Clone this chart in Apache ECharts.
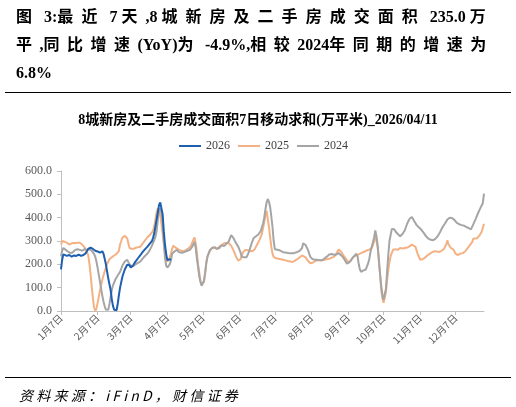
<!DOCTYPE html>
<html>
<head>
<meta charset="utf-8">
<script src="https://cdn.jsdelivr.net/npm/echarts@6/dist/echarts.min.js"></script>
<style>
  html, body { margin:0; padding:0; width:516px; height:407px; background:#fff; overflow:hidden; }
  #chart { position:absolute; left:0; top:0; width:516px; height:407px; }
  .hd { position:absolute; left:16px; font-family:"Liberation Serif","Noto Sans CJK SC",serif; font-weight:bold; font-size:16px; color:#000; line-height:28px; white-space:nowrap; }
  .rule { position:absolute; left:5px; width:506px; height:0; border-top:1.6px solid #000; }
  .src { position:absolute; left:19px; top:385px; font-family:"Noto Sans CJK SC",sans-serif; font-style:italic; font-size:14px; color:#000; white-space:nowrap; }
</style>
</head>
<body>
<div id="chart"></div>
<div class="hd fitcjk" data-w="478" style="top:3px">图 3:最近 7 天,8 城新房及二手房成交面积 235.0 万</div>
<div class="hd fitcjk" data-w="478" style="top:31px">平,同比增速(YoY)为 -4.9%,相较2024年同期的增速为</div>
<div class="hd" style="top:59px">6.8%</div>
<div class="rule" style="top:92px"></div>
<div class="rule" style="top:377px"></div>
<div class="src fit" data-w="222">资料来源：iFinD，财信证券</div>
<script>
// spread CJK characters of header lines to the reference width (Latin runs stay tight)
const cjkRe = /[\u3000-\u303f\u4e00-\u9fff\uff00-\uffef]/;
document.querySelectorAll('.fitcjk').forEach(el => {
  const target = +el.dataset.w;
  const text = el.textContent;
  el.textContent = '';
  const spans = [];
  for (const ch of text) {
    if (cjkRe.test(ch)) {
      const s = document.createElement('span');
      s.textContent = ch;
      el.appendChild(s);
      spans.push(s);
    } else {
      el.appendChild(document.createTextNode(ch));
    }
  }
  const w = el.getBoundingClientRect().width;
  const ls = (target - w) / spans.length;
  spans.forEach(s => { s.style.letterSpacing = ls + 'px'; });
});
document.querySelectorAll('.fit').forEach(el => {
  const target = +el.dataset.w;
  el.style.letterSpacing = '0px';
  const w = el.getBoundingClientRect().width;
  el.style.letterSpacing = ((target - w) / el.textContent.length) + 'px';
});

// x categories: Jan 7 .. Dec 31
const monthDays = [31,28,31,30,31,30,31,31,30,31,30,31];
const categories = [];
for (let m = 1; m <= 12; m++) {
  for (let d = 1; d <= monthDays[m-1]; d++) {
    if (m === 1 && d < 7) continue;
    categories.push(m + '月' + d + '日');
  }
}
const yTicks = [0, 100, 200, 300, 400, 500, 600];
const seriesNames = ['2026', '2025', '2024'];

// [day index from Jan 7, value]
const s2026 = [[0,178],[1,220],[2,243],[3,238],[5,236],[7,240],[9,233],[11,238],[13,236],[15,242],[17,236],[19,240],[21,248],[23,266],[25,272],[27,266],[29,258],[31,255],[33,250],[35,256],[36,245],[38,200],[40,140],[42,90],[43,50],[44,22],[45,5],[46,0],[47,3],[48,30],[49,68],[50,100],[52,148],[54,178],[56,198],[58,196],[59,186],[61,195],[63,212],[65,225],[67,238],[69,252],[71,264],[73,275],[75,288],[77,300],[78,315],[79,335],[80,365],[81,395],[82,425],[83,455],[84,465],[85,458],[86,415],[87,340],[88,285],[89,245],[90,218],[91,214],[92,222],[93,218]];

const s2025 = [[0,285],[1,300],[3,297],[5,292],[7,285],[8,280],[10,292],[12,290],[14,293],[16,292],[18,285],[20,272],[21,262],[22,255],[23,240],[24,205],[25,160],[26,105],[27,55],[28,15],[29,0],[30,10],[31,35],[33,88],[35,135],[37,170],[39,202],[41,222],[43,230],[45,238],[47,245],[49,258],[50,285],[52,315],[54,322],[56,312],[58,270],[60,266],[62,268],[64,272],[67,275],[70,295],[73,315],[76,330],[78,345],[79,365],[80,395],[81,425],[82,440],[83,432],[84,410],[85,375],[86,330],[87,285],[88,248],[89,222],[90,212],[91,215],[92,228],[93,245],[94,265],[95,280],[96,276],[98,268],[100,262],[102,258],[104,256],[106,262],[108,268],[110,280],[112,305],[113,315],[114,290],[115,250],[116,200],[117,165],[118,130],[119,112],[120,104],[121,125],[122,160],[123,210],[124,232],[125,240],[126,260],[128,272],[130,270],[132,266],[134,276],[136,282],[138,290],[140,292],[142,290],[144,280],[146,260],[148,235],[150,216],[151,214],[152,222],[154,252],[156,262],[158,260],[160,258],[162,256],[164,265],[166,285],[168,305],[170,330],[172,380],[173,410],[174,430],[175,395],[176,360],[177,317],[178,275],[179,246],[180,232],[182,226],[184,224],[186,222],[188,220],[190,217],[192,214],[194,212],[196,210],[198,216],[200,222],[202,230],[204,238],[205,241],[207,230],[209,215],[211,205],[213,207],[215,214],[217,217],[219,218],[221,218],[223,220],[225,222],[227,224],[229,228],[231,232],[233,246],[235,263],[237,255],[239,238],[241,225],[243,210],[245,213],[247,230],[249,236],[251,240],[253,246],[255,250],[257,255],[259,260],[261,263],[263,270],[264,282],[265,300],[266,325],[267,300],[268,274],[269,210],[270,160],[271,90],[272,55],[273,35],[274,35],[275,80],[276,132],[277,175],[278,210],[279,235],[281,262],[283,265],[285,262],[287,270],[289,268],[291,270],[293,272],[295,277],[297,285],[298,292],[300,275],[302,242],[304,220],[306,222],[308,228],[310,238],[312,245],[314,252],[316,256],[318,255],[320,253],[322,258],[324,265],[326,285],[327,303],[328,285],[330,270],[332,264],[334,245],[336,240],[338,246],[340,248],[342,255],[344,268],[346,282],[348,295],[349,310],[350,305],[352,312],[354,322],[356,340],[358,374]];

const s2024 = [[0,235],[1,258],[2,270],[4,262],[6,254],[8,248],[10,252],[12,262],[14,265],[16,262],[18,258],[20,265],[22,262],[24,265],[26,258],[28,245],[29,232],[30,212],[31,185],[32,155],[33,125],[34,95],[35,65],[36,40],[37,20],[38,6],[39,0],[40,5],[41,30],[42,60],[43,90],[44,110],[46,135],[48,152],[50,168],[52,195],[54,212],[56,220],[58,200],[60,190],[62,196],[64,203],[67,212],[70,230],[73,245],[75,260],[77,280],[79,305],[80,320],[81,345],[82,395],[83,430],[84,440],[85,420],[86,385],[87,300],[88,230],[89,195],[90,186],[91,185],[92,200],[93,215],[94,245],[96,255],[98,262],[100,252],[103,250],[106,256],[109,262],[111,275],[113,296],[114,270],[115,225],[116,190],[117,150],[118,125],[119,108],[120,103],[121,130],[122,165],[123,205],[124,235],[126,260],[128,270],[130,274],[132,266],[134,270],[136,282],[138,278],[140,288],[142,298],[144,325],[145,330],[146,312],[148,292],[150,276],[152,250],[153,232],[155,230],[157,230],[159,252],[161,285],[163,312],[165,320],[167,328],[169,342],[171,375],[172,400],[173,435],[174,465],[175,480],[176,468],[177,446],[178,405],[179,360],[180,300],[181,265],[182,257],[185,260],[188,252],[191,250],[194,247],[197,248],[200,253],[202,258],[204,270],[205,290],[206,292],[207,283],[209,262],[211,232],[213,222],[216,220],[219,218],[221,217],[223,225],[225,233],[227,242],[229,244],[232,240],[235,248],[238,235],[240,220],[242,203],[244,208],[246,222],[248,235],[250,245],[251,235],[252,200],[253,178],[254,168],[256,174],[258,178],[259,185],[260,205],[261,225],[262,255],[263,275],[264,295],[265,315],[266,345],[267,320],[268,280],[269,225],[270,160],[271,110],[272,70],[273,48],[274,46],[275,95],[276,170],[277,240],[278,300],[280,352],[282,350],[284,335],[287,320],[289,330],[291,346],[293,375],[295,395],[297,403],[299,385],[301,368],[303,358],[305,348],[307,335],[309,320],[311,310],[313,305],[315,303],[317,310],[319,322],[321,340],[323,360],[325,375],[327,392],[329,400],[331,398],[333,390],[335,378],[337,372],[339,368],[341,366],[343,360],[345,355],[347,350],[349,372],[351,395],[353,420],[355,442],[357,462],[358,503]];

const colors = { '2026': '#1F5FB0', '2025': '#F4B183', '2024': '#A5A5A5' };
const isMonthTick = (i, v) => /月7日$/.test(v);

const chart = echarts.init(document.getElementById('chart'), null, { renderer: 'canvas' });
chart.setOption({
  animation: false,
  backgroundColor: 'transparent',
  title: {
    text: '8城新房及二手房成交面积7日移动求和(万平米)_2026/04/11',
    left: 'center',
    top: 108,
    textStyle: { fontFamily: '"Liberation Serif","Noto Sans CJK SC",serif', fontWeight: 'bold', fontSize: 14, color: '#000' }
  },
  legend: {
    data: seriesNames,
    icon: 'rect',
    left: 179,
    top: 140,
    padding: 0,
    itemWidth: 22,
    itemHeight: 2,
    itemGap: 8,
    textStyle: { fontFamily: '"Liberation Serif",serif', fontSize: 12, color: '#404040' }
  },
  grid: { left: 61, right: 32, top: 171, bottom: 96, containLabel: false },
  xAxis: {
    type: 'category',
    data: categories,
    boundaryGap: false,
    axisLine: { show: true, lineStyle: { color: '#BFBFBF', width: 1 } },
    axisTick: { show: true, interval: isMonthTick, length: 4, lineStyle: { color: '#BFBFBF' } },
    axisLabel: { interval: isMonthTick, rotate: 45, margin: 5, fontSize: 10, color: '#595959', fontFamily: '"Noto Sans CJK SC",sans-serif' },
    splitLine: { show: false }
  },
  yAxis: {
    type: 'value',
    min: yTicks[0],
    max: yTicks[yTicks.length - 1],
    interval: 100,
    axisLine: { show: true, lineStyle: { color: '#BFBFBF', width: 1 } },
    axisTick: { show: true, length: 4, lineStyle: { color: '#BFBFBF' } },
    axisLabel: { formatter: v => v.toFixed(1), margin: 9, fontSize: 12, color: '#595959', fontFamily: '"Liberation Serif",serif' },
    splitLine: { show: false }
  },
  series: [
    { name: '2025', type: 'line', data: s2025, symbol: 'none', z: 1, lineStyle: { width: 2, color: colors['2025'] }, itemStyle: { color: colors['2025'] } },
    { name: '2024', type: 'line', data: s2024, symbol: 'none', z: 2, lineStyle: { width: 2, color: colors['2024'] }, itemStyle: { color: colors['2024'] } },
    { name: '2026', type: 'line', data: s2026, symbol: 'none', z: 3, lineStyle: { width: 2, color: colors['2026'] }, itemStyle: { color: colors['2026'] } }
  ]
});
</script>
</body>
</html>
